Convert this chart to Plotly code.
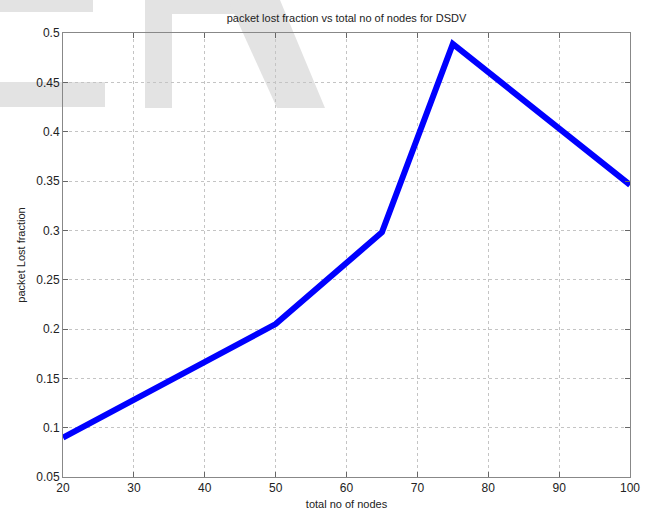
import plotly.graph_objects as go

nodes = [20, 50, 65, 75, 100]
lost_fraction = [0.09, 0.205, 0.298, 0.489, 0.346]
x_ticks = [20, 30, 40, 50, 60, 70, 80, 90, 100]
y_ticks = [0.05, 0.1, 0.15, 0.2, 0.25, 0.3, 0.35, 0.4, 0.45, 0.5]
y_tick_labels = ["0.05", "0.1", "0.15", "0.2", "0.25", "0.3", "0.35", "0.4", "0.45", "0.5"]

fig = go.Figure()
fig.add_trace(go.Scatter(x=nodes, y=lost_fraction, mode="lines",
                         line=dict(color="#0000ff", width=6), showlegend=False))

W, H = 650, 510
wm = "#e3e3e3"
def px_rect(x0, y0, x1, y1):
    return dict(type="rect", xref="paper", yref="paper", layer="below",
                x0=(x0 - 63) / 567, x1=(x1 - 63) / 567,
                y0=(477 - y1) / 444, y1=(477 - y0) / 444,
                fillcolor=wm, line=dict(width=0))
def px_poly(pts):
    path = "M " + " L ".join(f"{(x-63)/567},{(477-y)/444}" for x, y in pts) + " Z"
    return dict(type="path", xref="paper", yref="paper", layer="below", path=path,
                fillcolor=wm, line=dict(width=0))

shapes = [
    px_rect(0, 0, 93, 12),
    px_rect(0, 82, 105, 107),
    px_rect(145, 0, 172, 108),
    px_rect(145, 0, 240, 14),
    px_poly([(228, 0), (280, 0), (325, 108), (277, 108)]),
]

font = "Liberation Sans, Arial"
axis_common = dict(showgrid=True, gridcolor="#c4c4c4", griddash="dot", gridwidth=1,
                   ticks="inside", ticklen=5, tickcolor="#666", mirror="allticks",
                   showline=True, linecolor="#888", linewidth=1, zeroline=False,
                   automargin=False,
                   tickfont=dict(family=font, size=12, color="#222"))

fig.update_layout(
    width=W, height=H,
    margin=dict(l=63, r=20, t=33, b=33),
    paper_bgcolor="white", plot_bgcolor="rgba(0,0,0,0)",
    shapes=shapes,
    title=dict(text="packet lost fraction vs total no of nodes for DSDV",
               x=(63 + 630) / 2 / W, xanchor="center", y=1 - 18 / H, yanchor="middle",
               font=dict(family=font, size=11, color="#222")),
    xaxis=dict(range=[20, 100], tickvals=x_ticks, ticklabelstandoff=0,
               title=dict(text="total no of nodes", standoff=6,
                          font=dict(family=font, size=11, color="#222")),
               **axis_common),
    yaxis=dict(range=[0.05, 0.5], tickvals=y_ticks, ticktext=y_tick_labels,
               title=dict(text="packet Lost fraction", standoff=8,
                          font=dict(family=font, size=11, color="#222")),
               **axis_common),
)

fig.write_html("out.html")
